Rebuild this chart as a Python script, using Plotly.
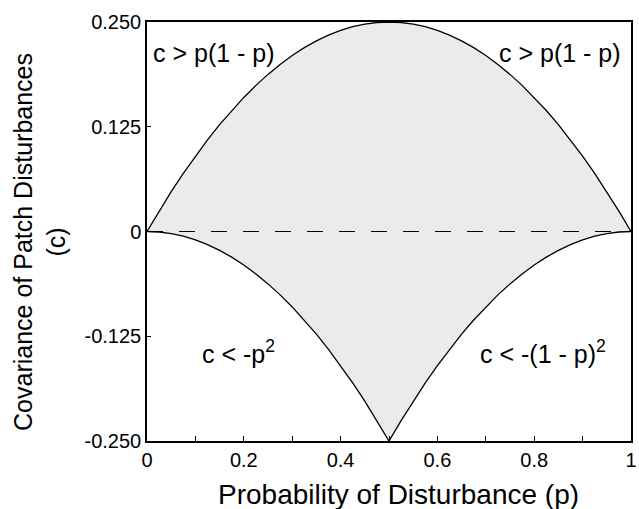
import plotly.graph_objects as go

p = [0, 0.025, 0.05, 0.075, 0.1, 0.125, 0.15, 0.175, 0.2, 0.225, 0.25, 0.275, 0.3, 0.325, 0.35, 0.375, 0.4, 0.425, 0.45, 0.475, 0.5,
     0.525, 0.55, 0.575, 0.6, 0.625, 0.65, 0.675, 0.7, 0.725, 0.75, 0.775, 0.8, 0.825, 0.85, 0.875, 0.9, 0.925, 0.95, 0.975, 1.0]
upper = [0, 0.024375, 0.0475, 0.069375, 0.09, 0.109375, 0.1275, 0.144375, 0.16, 0.174375, 0.1875, 0.199375, 0.21, 0.219375,
         0.2275, 0.234375, 0.24, 0.244375, 0.2475, 0.249375, 0.25,
         0.249375, 0.2475, 0.244375, 0.24, 0.234375, 0.2275, 0.219375, 0.21, 0.199375, 0.1875, 0.174375, 0.16, 0.144375,
         0.1275, 0.109375, 0.09, 0.069375, 0.0475, 0.024375, 0]
lower = [0, -0.000625, -0.0025, -0.005625, -0.01, -0.015625, -0.0225, -0.030625, -0.04, -0.050625, -0.0625, -0.075625, -0.09,
         -0.105625, -0.1225, -0.140625, -0.16, -0.180625, -0.2025, -0.225625, -0.25,
         -0.225625, -0.2025, -0.180625, -0.16, -0.140625, -0.1225, -0.105625, -0.09, -0.075625, -0.0625, -0.050625, -0.04,
         -0.030625, -0.0225, -0.015625, -0.01, -0.005625, -0.0025, -0.000625, 0]

x_ticks = [0, 0.2, 0.4, 0.6, 0.8, 1.0]
x_ticktext = ["0", "0.2", "0.4", "0.6", "0.8", "1"]
x_minor_ticks = [0.1, 0.3, 0.5, 0.7, 0.9]
y_ticks = [-0.25, -0.125, 0, 0.125, 0.25]
y_ticktext = ["-0.250", "-0.125", "0", "0.125", "0.250"]

labels = ["c > p(1 - p)", "c > p(1 - p)", "c < -p<sup>2</sup>", "c < -(1 - p)<sup>2</sup>"]
label_x = [0.139, 0.853, 0.19, 0.818]
label_y = [0.2136, 0.2136, -0.1437, -0.1437]

FONT = "Liberation Sans, Arial, sans-serif"

fig = go.Figure()
fig.add_trace(go.Scatter(x=p, y=lower, mode="lines", line=dict(color="black", width=1.3),
                         showlegend=False, hoverinfo="skip"))
fig.add_trace(go.Scatter(x=p, y=upper, mode="lines", line=dict(color="black", width=1.3),
                         fill="tonexty", fillcolor="#ebebeb", showlegend=False, hoverinfo="skip"))
fig.add_trace(go.Scatter(x=[0, 1], y=[0, 0], mode="lines", line=dict(color="black", width=1.2, dash="16px,16px"),
                         showlegend=False, hoverinfo="skip"))

for t, x, y in zip(labels, label_x, label_y):
    fig.add_annotation(x=x, y=y, text=t, showarrow=False, font=dict(size=25, color="black", family=FONT),
                       xanchor="center", yanchor="middle")

fig.add_annotation(x=-0.222, y=0.474, xref="paper", yref="paper", text="Covariance of Patch Disturbances<br>(c)",
                   textangle=-90, showarrow=False, font=dict(size=25, color="black", family=FONT),
                   xanchor="center", yanchor="middle")
fig.add_annotation(x=0.52, y=-0.128, xref="paper", yref="paper", text="Probability of Disturbance (p)",
                   showarrow=False, font=dict(size=28, color="black", family=FONT),
                   xanchor="center", yanchor="middle")

fig.update_xaxes(range=[0, 1], tickvals=x_ticks, ticktext=x_ticktext, ticks="inside", ticklen=5, tickwidth=1,
                 tickcolor="black", showline=True, linecolor="black", linewidth=1.5, mirror=True,
                 showgrid=False, zeroline=False, ticklabeloverflow="allow",
                 minor=dict(tickvals=x_minor_ticks, ticks="inside", ticklen=5, tickwidth=1, tickcolor="black",
                            showgrid=False),
                 tickfont=dict(size=20, color="black", family=FONT))
fig.update_yaxes(range=[-0.25, 0.25], tickvals=y_ticks, ticktext=y_ticktext, ticks="inside", ticklen=4, tickwidth=1,
                 tickcolor="black", showline=True, linecolor="black", linewidth=1.5, mirror=True,
                 showgrid=False, zeroline=False, tickfont=dict(size=20, color="black", family=FONT))

fig.update_layout(width=639, height=509, margin=dict(l=147, r=2, t=22, b=68),
                  plot_bgcolor="white", paper_bgcolor="white")

fig.write_html("out.html")
